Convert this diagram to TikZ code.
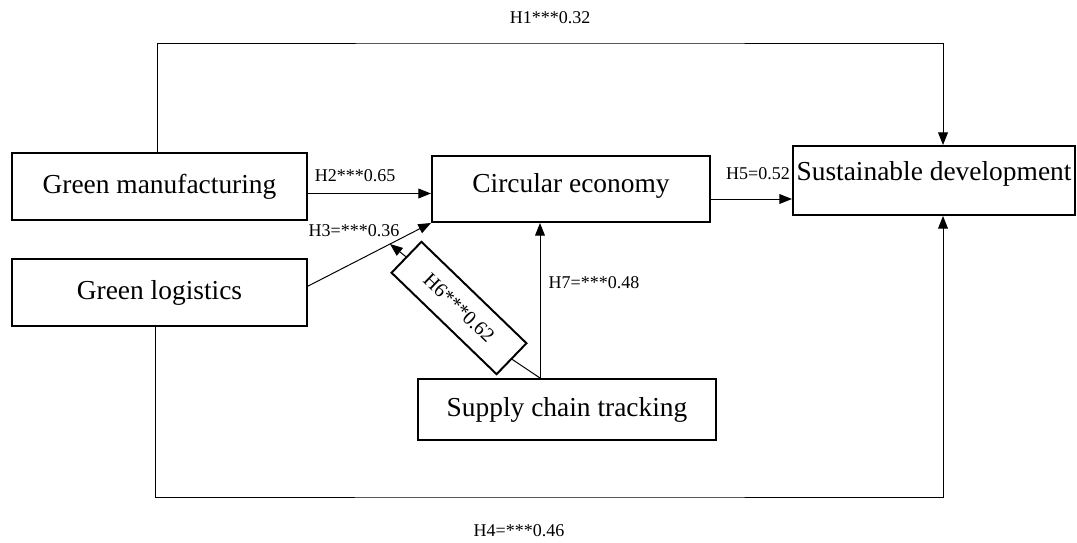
\documentclass[tikz,border=0pt]{standalone}
\usepackage{fontspec}
\setmainfont{Liberation Serif}
\usetikzlibrary{arrows.meta,positioning}

\begin{document}
\begin{tikzpicture}[
    x=0.025cm, y=-0.025cm,
    box/.style={rectangle, draw, line width=1.4pt, inner sep=2pt, align=center, font=\fontsize{19.5}{23}\selectfont},
    tilted/.style={rectangle, draw, line width=1.4pt, inner sep=2pt, rotate=-44, minimum width=3.65cm, minimum height=1.075cm, font=\fontsize{14.3}{17}\selectfont},
    lbl/.style={inner sep=1pt, font=\fontsize{12.8}{15}\selectfont},
    arrow/.style={-{Triangle[length=9pt,width=7pt]}, line width=0.7pt}
]
\useasboundingbox (0,0) rectangle (1077,543);

\node[box, minimum width=7.375cm, minimum height=1.675cm] (gm) at (159.5,186.5) {Green manufacturing};
\node[box, minimum width=7.375cm, minimum height=1.675cm, below=0.925cm of gm] (gl) {Green logistics};
\node[box, minimum width=6.95cm, minimum height=1.65cm, text depth=8pt] (ce) at (571,189) {Circular economy};
\node[box, minimum width=7.05cm, minimum height=1.725cm, text depth=13.5pt] (sd) at (934,180.5) {Sustainable development};
\node[box, minimum width=7.45cm, minimum height=1.525cm] (sct) at (567,409.5) {Supply chain tracking};
\node[tilted] (h6) at (459,308) {H6***0.62};

\coordinate (sct top) at ([xshift=-0.675cm]sct.north);
\coordinate (h6 tip) at (390,244);
\coordinate (h1 line) at (550,43);
\coordinate (h4 line) at (550,497);

% path labels
\node[lbl] (l1) at (550,18) {H1***0.32};
\node[lbl] (l2) at (355,176) {H2***0.65};
\node[lbl] (l3) at (354,231) {H3=***0.36};
\node[lbl] (l4) at (519,531) {H4=***0.46};
\node[lbl] (l5) at (758,174) {H5=0.52};
\node[lbl] (l7) at (594,283) {H7=***0.48};

\draw[arrow] ([yshift=-0.175cm]gm.east) -- ([yshift=-0.175cm]gm.east -| ce.west);
\draw[arrow] ([yshift=0.16cm]gl.east) -- (ce.south west);
\draw[arrow] ([yshift=-0.25cm]ce.east) -- ([yshift=-0.25cm]ce.east -| sd.west);
\draw[arrow] (sct top) -- (sct top |- ce.south);
\draw[line width=0.7pt] (h6.east) -- (sct top);
\draw[arrow] (h6.west) -- (h6 tip);
\draw[arrow] ([xshift=-0.06cm]gm.north) |- (h1 line) -| ([xshift=0.225cm]sd.north);
\draw[arrow] ([xshift=-0.1cm]gl.south) |- (h4 line) -| ([xshift=0.225cm]sd.south);
\end{tikzpicture}
\end{document}
